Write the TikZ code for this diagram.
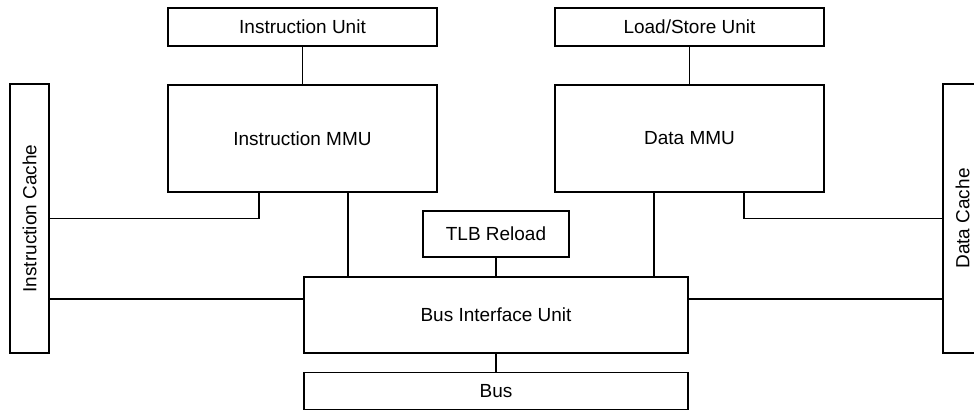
\documentclass[tikz,border=0pt]{standalone}
\usepackage{fontspec}
\setmainfont{Liberation Sans}
\begin{document}
\begin{tikzpicture}[x=0.025cm, y=-0.025cm]
      \tikzstyle{unit} = [rectangle, draw=black, line width=1pt, inner sep=0pt, text centered, font=\fontsize{13.5}{16}\selectfont]
      \tikzstyle{wire} = [line width=1pt]

      \useasboundingbox (0,0) rectangle (974,411);

      \node (iu) [unit, minimum width=6.725cm, minimum height=0.95cm] at (302.5,27) {Instruction Unit};
      \node (lsu) [unit, minimum width=6.725cm, minimum height=0.95cm] at (689.5,27) {Load/Store Unit};
      \node (immu) [unit, minimum width=6.725cm, minimum height=2.675cm] at (302.5,138.5) {Instruction MMU};
      \node (dmmu) [unit, minimum width=6.725cm, minimum height=2.675cm] at (689.5,138.5) {Data MMU};
      \node (icache) [unit, minimum width=0.975cm, minimum height=6.725cm] at (29.5,218.5) {};
      \node (icachetext) [font=\fontsize{13.5}{16}\selectfont, rotate=90] at (icache) {Instruction Cache};
      \node (dcache) [unit, minimum width=0.975cm, minimum height=6.725cm] at (962.5,218.5) {};
      \node (dcachetext) [font=\fontsize{13.5}{16}\selectfont, rotate=90] at (dcache) {Data Cache};
      \node (tlb) [unit, minimum width=3.65cm, minimum height=1.15cm] at (496,234) {TLB Reload};
      \node (biu) [unit, minimum width=9.6cm, minimum height=1.9cm] at (496,315) {Bus Interface Unit};
      \node (bus) [unit, minimum width=9.6cm, minimum height=0.925cm] at (496,391) {Bus};

      \draw [wire] (iu) -- (immu);
      \draw [wire] (lsu) -- (dmmu);
      \draw [wire] ([xshift=-1.0875cm]immu.south) |- (icache.east);
      \draw [wire] ([xshift=1.1375cm]immu.south) coordinate (ib) -- (ib |- biu.north);
      \draw [wire] ([xshift=-0.8875cm]dmmu.south) coordinate (db) -- (db |- biu.north);
      \draw [wire] ([xshift=1.3625cm]dmmu.south) |- (dcache.west);
      \draw [wire] (tlb) -- (biu);
      \draw [wire] ([yshift=0.4cm]biu.west) coordinate (bw) -- (bw -| icache.east);
      \draw [wire] ([yshift=0.4cm]biu.east) coordinate (be) -- (be -| dcache.west);
      \draw [wire] (biu) -- (bus);
\end{tikzpicture}
\end{document}
